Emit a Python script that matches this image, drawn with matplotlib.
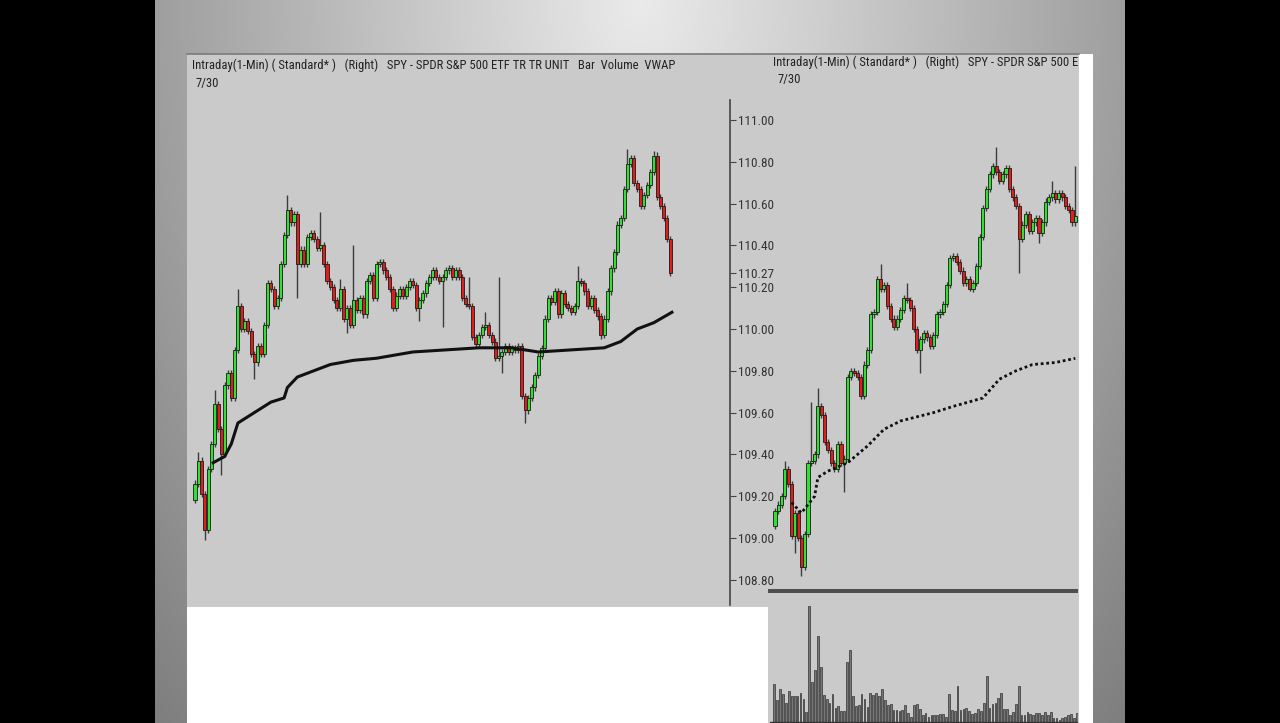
import numpy as np
import matplotlib.pyplot as plt
from matplotlib.patches import Rectangle
from matplotlib import font_manager as fm

# ---- left chart (7/30, 1-min SPY) ----
left_open0 = 109.18
left_close = [
    109.26, 109.37, 109.21, 109.04, 109.33, 109.45, 109.64, 109.52, 109.40, 109.73,
    109.79, 109.67, 109.90, 110.11, 110.00, 110.04, 109.99, 109.88, 109.84, 109.92,
    109.88, 110.02, 110.22, 110.19, 110.11, 110.15, 110.31, 110.45, 110.57, 110.51,
    110.55, 110.31, 110.38, 110.31, 110.44, 110.46, 110.43, 110.39, 110.40, 110.31,
    110.23, 110.20, 110.14, 110.10, 110.19, 110.05, 110.10, 110.02, 110.14, 110.09,
    110.15, 110.07, 110.23, 110.26, 110.15, 110.31, 110.32, 110.28, 110.25, 110.19,
    110.10, 110.16, 110.19, 110.16, 110.20, 110.23, 110.21, 110.10, 110.14, 110.17,
    110.22, 110.25, 110.28, 110.25, 110.23, 110.25, 110.28, 110.29, 110.25, 110.28,
    110.25, 110.15, 110.12, 110.11, 109.96, 109.93, 109.97, 110.01, 110.02, 109.97,
    109.94, 109.86, 109.87, 109.89, 109.92, 109.89, 109.91, 109.90, 109.92, 109.68,
    109.61, 109.67, 109.72, 109.78, 109.87, 109.91, 110.05, 110.15, 110.13, 110.18,
    110.07, 110.17, 110.12, 110.10, 110.08, 110.11, 110.23, 110.22, 110.18, 110.11,
    110.15, 110.09, 110.06, 109.97, 110.05, 110.18, 110.29, 110.37, 110.50, 110.53,
    110.67, 110.79, 110.82, 110.70, 110.67, 110.59, 110.64, 110.69, 110.75, 110.83,
    110.63, 110.59, 110.53, 110.43, 110.27]
left_high_spikes = {1: 109.41, 6: 109.71, 13: 110.19, 28: 110.64, 38: 110.56, 44: 110.24,
                    48: 110.40, 83: 110.25, 88: 110.08, 92: 110.25, 116: 110.30,
                    131: 110.86, 139: 110.85}
left_low_spikes = {3: 108.99, 8: 109.30, 18: 109.76, 31: 110.15, 46: 109.98, 68: 110.04,
                   75: 110.01, 93: 109.79, 100: 109.55, 123: 109.95}
left_vwap_idx = [5.5, 9, 11, 13, 18, 23, 27, 28, 31, 36, 41, 48, 55, 66, 76, 86, 96,
                 104, 114, 124, 129, 134, 139, 144.5]
left_vwap = [109.36, 109.39, 109.45, 109.55, 109.60, 109.65, 109.67, 109.72, 109.77,
             109.80, 109.83, 109.85, 109.86, 109.89, 109.90, 109.91, 109.91, 109.89,
             109.90, 109.91, 109.94, 110.00, 110.03, 110.08]

# ---- right chart ----
right_open0 = 109.06
right_close = [
    109.13, 109.16, 109.20, 109.33, 109.26, 109.01, 109.12, 109.00, 108.86, 109.02,
    109.36, 109.37, 109.40, 109.63, 109.59, 109.46, 109.42, 109.36, 109.33, 109.45,
    109.36, 109.38, 109.77, 109.80, 109.79, 109.77, 109.68, 109.83, 109.90, 110.07,
    110.08, 110.24, 110.19, 110.21, 110.11, 110.05, 110.01, 110.05, 110.09, 110.15,
    110.14, 110.10, 110.00, 109.90, 109.95, 109.98, 109.96, 109.92, 109.97, 110.07,
    110.08, 110.12, 110.21, 110.34, 110.35, 110.32, 110.28, 110.22, 110.24, 110.19,
    110.22, 110.30, 110.44, 110.58, 110.67, 110.74, 110.78, 110.75, 110.71, 110.74,
    110.77, 110.67, 110.63, 110.59, 110.43, 110.50, 110.55, 110.47, 110.51, 110.53,
    110.46, 110.51, 110.61, 110.63, 110.65, 110.62, 110.65, 110.63, 110.59, 110.57,
    110.51, 110.54]
right_high_spikes = {3: 109.37, 11: 109.65, 13: 109.72, 32: 110.31, 40: 110.22,
                     67: 110.87, 84: 110.71, 91: 110.78}
right_low_spikes = {6: 108.93, 8: 108.82, 21: 109.22, 44: 109.79, 59: 110.18,
                    74: 110.27, 80: 110.41}
right_vwap_idx = [5, 8, 12, 13, 16, 22, 28, 33, 38, 48, 54, 63, 68, 73, 78, 85, 91]
right_vwap = [109.17, 109.12, 109.20, 109.29, 109.32, 109.36, 109.44, 109.52, 109.56,
              109.60, 109.63, 109.67, 109.76, 109.80, 109.83, 109.84, 109.86]

volume = [115, 65, 100, 85, 57, 92, 77, 77, 77, 87,
          70, 30, 347, 120, 155, 257, 165, 80, 70, 57,
          85, 43, 47, 32, 32, 180, 215, 77, 47, 50,
          85, 70, 45, 87, 80, 87, 77, 100, 65, 50,
          55, 35, 35, 33, 35, 50, 27, 15, 50, 55,
          40, 20, 27, 15, 22, 20, 20, 23, 23, 15,
          85, 35, 32, 107, 35, 40, 42, 32, 25, 27,
          40, 32, 57, 138, 42, 55, 57, 73, 88, 38,
          38, 20, 30, 53, 107, 22, 20, 30, 25, 22,
          28, 28, 22, 30, 20, 30, 12, 12, 7, 12,
          15, 20, 25, 12, 27]

price_ticks = [111.00, 110.80, 110.60, 110.40, 110.27, 110.20, 110.00,
               109.80, 109.60, 109.40, 109.20, 109.00, 108.80]

title_left = "Intraday(1-Min) ( Standard* )   (Right)   SPY - SPDR S&P 500 ETF TR TR UNIT   Bar  Volume  VWAP"
title_right = "Intraday(1-Min) ( Standard* )   (Right)   SPY - SPDR S&P 500 ETF TR TR UNIT"
date_label = "7/30"


# pick a narrow font if one is installed, else shrink the regular one
def pick_font():
    for name in ['Liberation Sans Narrow', 'Arial Narrow', 'Roboto Condensed',
                 'Open Sans Condensed']:
        try:
            fm.findfont(fm.FontProperties(family=name), fallback_to_default=False)
            return {'family': [name, 'DejaVu Sans']}, 9.1
        except ValueError:
            pass
    path = fm.findfont(fm.FontProperties(family='DejaVu Sans', stretch='condensed'))
    if 'Condensed' in path:
        return {'family': ['DejaVu Sans'], 'stretch': 'condensed'}, 8.0
    return {'family': ['Liberation Sans', 'DejaVu Sans']}, 7.6


FONT, FS = pick_font()
GREEN = '#2fe22f'
RED = '#e21b1b'
PANEL = '#cacaca'
W, H = 1280, 723

fig = plt.figure(figsize=(12.8, 7.23), dpi=100)


def box(x0, y0, x1, y1):
    return [x0 / W, 1 - y1 / H, (x1 - x0) / W, (y1 - y0) / H]


# background: black sides, grey gradient, panels
bg = fig.add_axes([0, 0, 1, 1], zorder=-1)
yy, xx = np.mgrid[0:H, 0:W]
d = np.sqrt(((xx - 640) / 520.0) ** 2 + (yy / 760.0) ** 2)
g = np.clip(0.92 - 0.32 * d, 0, 1)
img = np.dstack([g, g, g])
img[:, :155] = 0
img[:, 1125:] = 0
bg.imshow(img, extent=(0, W, H, 0), aspect='auto', interpolation='bilinear')
bg.add_patch(Rectangle((187, 54), 581, 553, color=PANEL, lw=0))
bg.add_patch(Rectangle((187, 607), 581, 116, color='white', lw=0))
bg.add_patch(Rectangle((768, 54), 311, 669, color=PANEL, lw=0))
bg.add_patch(Rectangle((1079, 54), 14, 669, color='white', lw=0))
bg.plot([187, 1079], [54, 54], color='#7a7a7a', lw=1.2)
bg.add_patch(Rectangle((768, 589), 310, 4, color='#4e4e4e', lw=0))
bg.set_xlim(0, W)
bg.set_ylim(H, 0)
bg.axis('off')


def candles(ax, open0, closes, hi_spikes, lo_spikes):
    closes = np.array(closes)
    opens = np.concatenate([[open0], closes[:-1]])
    idx = np.arange(len(closes))
    top = np.maximum(opens, closes)
    bot = np.minimum(opens, closes)
    highs = top + 0.015
    lows = bot - 0.015
    for i, v in hi_spikes.items():
        highs[i] = v
    for i, v in lo_spikes.items():
        lows[i] = v
    ax.vlines(idx, lows, highs, color='#3c3c3c', lw=1.0, zorder=2)
    cols = np.where(closes >= opens, GREEN, RED)
    ax.bar(idx, np.maximum(top - bot, 0.01), bottom=bot, width=0.92, color=cols,
           edgecolor='#1a1a1a', linewidth=0.6, zorder=3)


# left chart
axl = fig.add_axes(box(187, 100, 730, 605), zorder=1)
axl.set_facecolor('none')
candles(axl, left_open0, left_close, left_high_spikes, left_low_spikes)
axl.plot(left_vwap_idx, left_vwap, color='#111111', lw=2.2, zorder=4)
axl.set_xlim(-2.42, 162.1)
axl.set_ylim(108.679, 111.096)
for s in ['top', 'left', 'bottom']:
    axl.spines[s].set_visible(False)
axl.spines['right'].set_linestyle((0, (1, 1)))
axl.spines['right'].set_color('#444444')
axl.spines['right'].set_linewidth(1.2)
axl.set_xticks([])
axl.yaxis.tick_right()
axl.set_yticks(price_ticks)
axl.set_yticklabels([f"{p:.2f}" for p in price_ticks], fontsize=FS + 0.4,
                    color='#333333', **FONT)
axl.tick_params(axis='y', length=4, width=0.8, color='#444444', pad=1.5)

fig.text(192 / W, 1 - 65 / H, title_left, fontsize=FS, color='#222222',
         ha='left', va='center', **FONT)
fig.text(196 / W, 1 - 84 / H, date_label, fontsize=FS, color='#222222',
         ha='left', va='center', **FONT)

# right chart
axr = fig.add_axes(box(770, 54, 1078, 588), zorder=1)
axr.set_facecolor('none')
candles(axr, right_open0, right_close, right_high_spikes, right_low_spikes)
axr.plot(right_vwap_idx, right_vwap, color='#111111', lw=2.0, ls=(0, (1, 1)), zorder=4)
axr.set_xlim(-1.52, 91.82)
axr.set_ylim(108.761, 111.316)
axr.axis('off')
axr.text(3 / 308, 1 - 8 / 534, title_right, transform=axr.transAxes,
         fontsize=FS, color='#222222', ha='left', va='center', clip_on=True, **FONT)
axr.text(8 / 308, 1 - 26 / 534, date_label, transform=axr.transAxes,
         fontsize=FS, color='#222222', ha='left', va='center', clip_on=True, **FONT)

# volume pane
axv = fig.add_axes(box(770, 595, 1078, 723), zorder=1)
axv.set_facecolor('none')
axv.bar(np.arange(len(volume)), volume, width=0.6, color='#777777', edgecolor='#333333',
        linewidth=0.5)
axv.axhline(0, color='#333333', lw=1.0)
axv.set_xlim(-1.48, 104.4)
axv.set_ylim(-3, 381)
axv.axis('off')

fig.savefig('out.png', dpi=100)
